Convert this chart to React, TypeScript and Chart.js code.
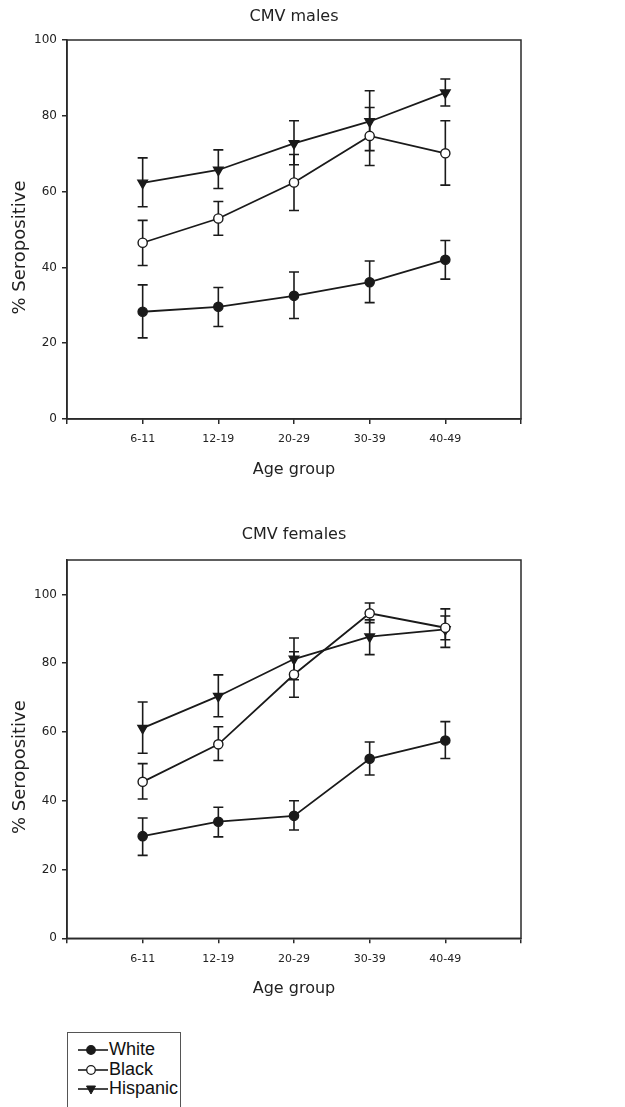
import React, { useEffect, useRef } from "react";
import { Chart, registerables } from "chart.js";

Chart.register(...registerables);

// ---------- data ----------
const AGE_GROUPS = ["6-11", "12-19", "20-29", "30-39", "40-49"];
const X_TICK_LABELS = ["", ...AGE_GROUPS, ""];
const Y_TICKS = [0, 20, 40, 60, 80, 100];
const Y_TITLE = "% Seropositive";
const X_TITLE = "Age group";

const MALE_WHITE = [28.3, 29.6, 32.5, 36.1, 42.0];
const MALE_WHITE_LO = [21.4, 24.4, 26.5, 30.7, 36.9];
const MALE_WHITE_HI = [35.4, 34.7, 38.8, 41.7, 47.1];
const MALE_BLACK = [46.5, 52.9, 62.4, 74.7, 70.1];
const MALE_BLACK_LO = [40.5, 48.5, 55.0, 66.9, 61.7];
const MALE_BLACK_HI = [52.4, 57.4, 69.8, 82.2, 78.7];
const MALE_HISP = [62.3, 65.7, 72.7, 78.5, 86.1];
const MALE_HISP_LO = [56.0, 60.8, 67.1, 70.8, 82.6];
const MALE_HISP_HI = [68.9, 71.0, 78.7, 86.6, 89.7];

const FEMALE_WHITE = [29.7, 33.9, 35.6, 52.2, 57.5];
const FEMALE_WHITE_LO = [24.1, 29.5, 31.5, 47.5, 52.3];
const FEMALE_WHITE_HI = [35.0, 38.1, 40.0, 57.1, 63.0];
const FEMALE_BLACK = [45.5, 56.4, 76.7, 94.5, 90.3];
const FEMALE_BLACK_LO = [40.5, 51.7, 70.1, 91.8, 84.6];
const FEMALE_BLACK_HI = [50.8, 61.5, 83.3, 97.5, 95.8];
const FEMALE_HISP = [61.1, 70.4, 81.2, 87.7, 89.8];
const FEMALE_HISP_LO = [53.8, 64.4, 75.2, 82.5, 86.8];
const FEMALE_HISP_HI = [68.7, 76.6, 87.3, 92.6, 93.7];

const SERIES_NAMES = ["White", "Black", "Hispanic"];

// ---------- style ----------
const FONT = "'DejaVu Sans', Verdana, sans-serif";
const LEGEND_FONT = "'Liberation Sans', Arial, Helvetica, sans-serif";
const INK = "#1a1a1a";
const AXIS = "#2a2a2a";
const TEXT = "#222222";

const errorBarPlugin = {
  id: "errorBars",
  beforeDatasetsDraw(chart: any) {
    const ctx = chart.ctx;
    const ys = chart.scales.y;
    ctx.save();
    ctx.strokeStyle = INK;
    ctx.lineWidth = 1.6;
    chart.data.datasets.forEach((ds: any, i: number) => {
      const meta = chart.getDatasetMeta(i);
      meta.data.forEach((pt: any, j: number) => {
        const x = pt.x;
        const yl = ys.getPixelForValue(ds.errLo[j]);
        const yh = ys.getPixelForValue(ds.errHi[j]);
        ctx.beginPath();
        ctx.moveTo(x, yl);
        ctx.lineTo(x, yh);
        ctx.moveTo(x - 5, yl);
        ctx.lineTo(x + 5, yl);
        ctx.moveTo(x - 5, yh);
        ctx.lineTo(x + 5, yh);
        ctx.stroke();
      });
    });
    ctx.restore();
  },
};

const framePlugin = {
  id: "frame",
  beforeDatasetsDraw(chart: any) {
    const { ctx, chartArea } = chart;
    ctx.save();
    ctx.strokeStyle = AXIS;
    ctx.lineWidth = 1.5;
    ctx.strokeRect(
      chartArea.left,
      chartArea.top,
      chartArea.right - chartArea.left,
      chartArea.bottom - chartArea.top
    );
    ctx.restore();
  },
};

// y-axis title: SigmaPlot places it slightly below the axis middle
const yTitlePlugin = {
  id: "yTitle",
  afterDraw(chart: any) {
    const { ctx, chartArea } = chart;
    ctx.save();
    ctx.translate(20, (chartArea.top + chartArea.bottom) / 2 + 18);
    ctx.rotate(-Math.PI / 2);
    ctx.font = `18px ${FONT}`;
    ctx.fillStyle = TEXT;
    ctx.textAlign = "center";
    ctx.textBaseline = "middle";
    ctx.fillText(Y_TITLE, 0, 0);
    ctx.restore();
  },
};

type Cfg = {
  title: string;
  yMax: number;
  white: number[];
  whiteLo: number[];
  whiteHi: number[];
  black: number[];
  blackLo: number[];
  blackHi: number[];
  hisp: number[];
  hispLo: number[];
  hispHi: number[];
  height: number;
  titlePadTop: number;
  titlePadBottom: number;
  xAxisHeight: number;
  xTitlePadBottom: number;
};

function toPoints(vals: number[]) {
  return vals.map((v, i) => ({ x: i + 1, y: v }));
}

function SeroChart(props: Cfg & { top: number }) {
  const ref = useRef<HTMLCanvasElement | null>(null);
  useEffect(() => {
    if (!ref.current) return;
    const common = {
      borderColor: INK,
      borderWidth: 1.8,
      pointBorderColor: INK,
      pointBorderWidth: 1.4,
      tension: 0,
      showLine: true,
    };
    const chart = new Chart(ref.current, {
      type: "line",
      data: {
        datasets: [
          {
            ...common,
            label: SERIES_NAMES[0],
            data: toPoints(props.white),
            errLo: props.whiteLo,
            errHi: props.whiteHi,
            pointStyle: "circle",
            pointRadius: 4.6,
            pointBackgroundColor: INK,
          } as any,
          {
            ...common,
            label: SERIES_NAMES[1],
            data: toPoints(props.black),
            errLo: props.blackLo,
            errHi: props.blackHi,
            pointStyle: "circle",
            pointRadius: 4.6,
            pointBackgroundColor: "#ffffff",
          } as any,
          {
            ...common,
            label: SERIES_NAMES[2],
            data: toPoints(props.hisp),
            errLo: props.hispLo,
            errHi: props.hispHi,
            pointStyle: "triangle",
            pointRotation: 180,
            pointRadius: 5.5,
            pointBackgroundColor: INK,
          } as any,
        ],
      },
      options: {
        responsive: false,
        animation: false,
        devicePixelRatio: 1,
        events: [],
        layout: { padding: { left: 0, right: 37, top: 0, bottom: 0 } },
        plugins: {
          legend: { display: false },
          tooltip: { enabled: false },
          title: {
            display: true,
            text: props.title,
            color: TEXT,
            font: { family: FONT, size: 16, weight: "normal" },
            padding: { top: props.titlePadTop, bottom: props.titlePadBottom },
          },
        },
        scales: {
          x: {
            type: "linear",
            min: 0,
            max: 6,
            afterBuildTicks: (axis: any) => {
              axis.ticks = X_TICK_LABELS.map((_, i) => ({ value: i }));
            },
            afterFit: (s: any) => {
              s.height = props.xAxisHeight;
            },
            ticks: {
              autoSkip: false,
              maxRotation: 0,
              padding: 9,
              color: TEXT,
              font: { family: FONT, size: 11 },
              callback: (v: any) => X_TICK_LABELS[Math.round(v)] ?? "",
            },
            grid: {
              display: true,
              drawOnChartArea: false,
              drawTicks: true,
              tickLength: 5,
              color: AXIS,
              lineWidth: 1.5,
            },
            border: { display: true, color: AXIS, width: 1.5 },
            title: {
              display: true,
              text: X_TITLE,
              color: TEXT,
              font: { family: FONT, size: 16 },
              padding: { top: 0, bottom: props.xTitlePadBottom },
            },
          },
          y: {
            type: "linear",
            position: "left",
            min: 0,
            max: props.yMax,
            afterBuildTicks: (axis: any) => {
              axis.ticks = Y_TICKS.filter((v) => v <= props.yMax).map((v) => ({ value: v }));
            },
            afterFit: (s: any) => {
              s.width = 67;
            },
            ticks: {
              padding: 5,
              color: TEXT,
              font: { family: FONT, size: 12 },
            },
            grid: {
              display: true,
              drawOnChartArea: false,
              drawTicks: true,
              tickLength: 5,
              color: AXIS,
              lineWidth: 1.5,
            },
            border: { display: true, color: AXIS, width: 1.5 },
            title: { display: false },
          },
          y2: {
            type: "linear",
            position: "right",
            min: 0,
            max: props.yMax,
            afterFit: (s: any) => {
              s.width = 67;
            },
            ticks: { display: false },
            grid: { display: false, drawTicks: false },
            border: { display: false },
          },
        },
      } as any,
      plugins: [framePlugin, errorBarPlugin, yTitlePlugin],
    });
    return () => chart.destroy();
  }, []);
  return (
    <canvas
      ref={ref}
      width={625}
      height={props.height}
      style={{ position: "absolute", left: 0, top: props.top, width: 625, height: props.height, display: "block" }}
    />
  );
}

function LegendMarker({ kind }: { kind: number }) {
  return (
    <svg width={41} height={19.5} style={{ display: "block", flex: "none" }}>
      <line x1={10} y1={10} x2={40} y2={10} stroke={INK} strokeWidth={1.6} />
      {kind === 0 && <circle cx={23} cy={10} r={4.3} fill={INK} stroke={INK} strokeWidth={1.2} />}
      {kind === 1 && <circle cx={23} cy={10} r={4.3} fill="#fff" stroke={INK} strokeWidth={1.3} />}
      {kind === 2 && <polygon points="18.5,7 27.5,7 23,15" fill={INK} stroke={INK} strokeWidth={1} />}
    </svg>
  );
}

export default function App() {
  return (
    <div
      style={{
        position: "absolute",
        left: 0,
        top: 0,
        width: 625,
        height: 1107,
        overflow: "hidden",
        background: "#ffffff",
      }}
    >
      <SeroChart
        top={0}
        height={490}
        title="CMV males"
        yMax={100}
        white={MALE_WHITE}
        whiteLo={MALE_WHITE_LO}
        whiteHi={MALE_WHITE_HI}
        black={MALE_BLACK}
        blackLo={MALE_BLACK_LO}
        blackHi={MALE_BLACK_HI}
        hisp={MALE_HISP}
        hispLo={MALE_HISP_LO}
        hispHi={MALE_HISP_HI}
        titlePadTop={7.4}
        titlePadBottom={13.4}
        xAxisHeight={71}
        xTitlePadBottom={10.4}
      />
      <SeroChart
        top={490}
        height={520}
        title="CMV females"
        yMax={110}
        white={FEMALE_WHITE}
        whiteLo={FEMALE_WHITE_LO}
        whiteHi={FEMALE_WHITE_HI}
        black={FEMALE_BLACK}
        blackLo={FEMALE_BLACK_LO}
        blackHi={FEMALE_BLACK_HI}
        hisp={FEMALE_HISP}
        hispLo={FEMALE_HISP_LO}
        hispHi={FEMALE_HISP_HI}
        titlePadTop={35.4}
        titlePadBottom={15.4}
        xAxisHeight={71.7}
        xTitlePadBottom={11.1}
      />
      <div
        style={{
          position: "absolute",
          left: 67,
          top: 1032,
          width: 114,
          height: 80,
          boxSizing: "border-box",
          border: "1px solid #555",
          paddingTop: 7,
          fontFamily: LEGEND_FONT,
          fontSize: 18,
          lineHeight: "19.5px",
          color: "#111",
        }}
      >
        {SERIES_NAMES.map((name, i) => (
          <div key={name} style={{ display: "flex", alignItems: "center", height: 19.5 }}>
            <LegendMarker kind={i} />
            <span>{name}</span>
          </div>
        ))}
      </div>
    </div>
  );
}
